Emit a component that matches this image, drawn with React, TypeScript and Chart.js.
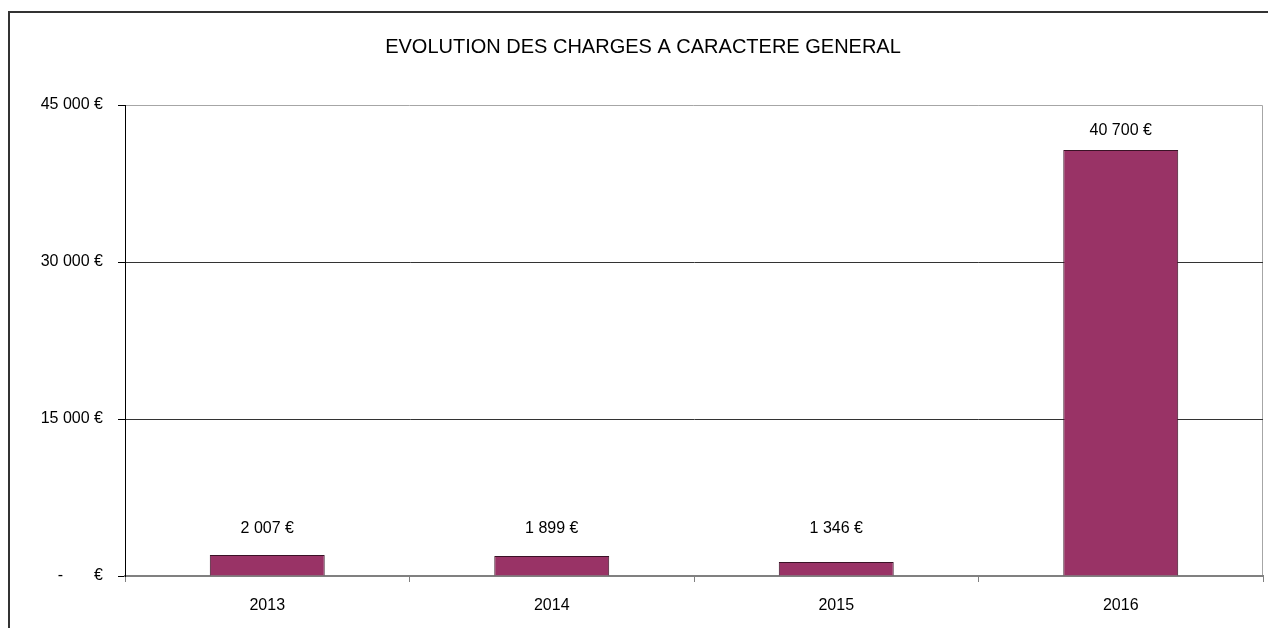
import React, { useEffect, useRef } from "react";
import { Chart, registerables } from "chart.js";

Chart.register(...registerables);

const categories = ["2013", "2014", "2015", "2016"];
const values = [2007, 1899, 1346, 40700];
const yTicks = [0, 15000, 30000, 45000];
const title = "EVOLUTION DES CHARGES A CARACTERE GENERAL";

const FONT = "'Liberation Sans', Arial, sans-serif";

function fmt(v: number): string {
  if (v === 0) return "-       €";
  const s = Math.round(v).toString().replace(/\B(?=(\d{3})+(?!\d))/g, " ");
  return s + " €";
}

const decorPlugin = {
  id: "decor",
  beforeDraw(chart: any) {
    const ctx = chart.ctx;
    const { left, right, top, bottom } = chart.chartArea;
    ctx.save();
    ctx.fillStyle = "#fff";
    ctx.fillRect(0, 0, chart.width, chart.height);
    // frame
    ctx.strokeStyle = "#333";
    ctx.lineWidth = 2;
    ctx.beginPath();
    ctx.moveTo(9, chart.height + 5);
    ctx.lineTo(9, 12);
    ctx.lineTo(chart.width + 5, 12);
    ctx.stroke();
    // plot area border (top, right)
    ctx.strokeStyle = "#a6a6a6";
    ctx.lineWidth = 1;
    ctx.beginPath();
    ctx.moveTo(left, top + 0.5);
    ctx.lineTo(right - 0.5, top + 0.5);
    ctx.lineTo(right - 0.5, bottom);
    ctx.stroke();
    // title
    ctx.fillStyle = "#000";
    ctx.font = `20px ${FONT}`;
    ctx.textAlign = "center";
    ctx.textBaseline = "middle";
    ctx.fillText(title, 643, 47);
    ctx.restore();
  },
  afterDatasetsDraw(chart: any) {
    const ctx = chart.ctx;
    const meta = chart.getDatasetMeta(0);
    const base = chart.chartArea.bottom;
    ctx.save();
    ctx.fillStyle = "#000";
    ctx.font = `16px ${FONT}`;
    ctx.textAlign = "center";
    ctx.textBaseline = "middle";
    meta.data.forEach((bar: any, i: number) => {
      const y = Math.min(bar.y - 19, base - 47);
      ctx.fillText(fmt(values[i]), bar.x, y);
    });
    ctx.restore();
  },
};

export default function App() {
  const ref = useRef<HTMLCanvasElement | null>(null);
  useEffect(() => {
    if (!ref.current) return;
    const chart = new Chart(ref.current, {
      type: "bar",
      data: {
        labels: categories,
        datasets: [
          {
            data: values,
            backgroundColor: "#993366",
            borderColor: "#3a1226",
            borderWidth: 1,
            barPercentage: 0.404,
            categoryPercentage: 1,
          },
        ],
      },
      options: {
        animation: false,
        responsive: false,
        maintainAspectRatio: false,
        layout: { padding: { left: 0, right: 5, top: 105, bottom: 0 } },
        plugins: {
          legend: { display: false },
          title: { display: false },
          tooltip: { enabled: false },
        },
        scales: {
          x: {
            grid: {
              display: true,
              drawOnChartArea: false,
              drawTicks: true,
              tickLength: 6,
              color: "#808080",
              offset: true,
            },
            border: { display: true, color: "#808080", width: 2 },
            ticks: {
              color: "#000",
              font: { family: FONT, size: 16 },
              padding: 14,
            },
            afterFit(scale: any) {
              scale.height = 52;
            },
          },
          y: {
            min: 0,
            max: 45000,
            afterBuildTicks(scale: any) {
              scale.ticks = yTicks.map((v) => ({ value: v }));
            },
            grid: {
              display: true,
              drawOnChartArea: true,
              drawTicks: true,
              tickLength: 7,
              color: (c: any) =>
                c.tick && (c.tick.value === 45000 || c.tick.value === 0) ? "rgba(0,0,0,0)" : "#333",
              tickColor: "#000",
            },
            border: { display: true, color: "#000", width: 1 },
            ticks: {
              color: "#000",
              font: { family: FONT, size: 16 },
              padding: 15,
              callback: (v: any) => fmt(Number(v)),
            },
            afterFit(scale: any) {
              scale.width = 125;
            },
          },
        },
      },
      plugins: [decorPlugin],
    });
    return () => chart.destroy();
  }, []);
  return (
    <div style={{ position: "fixed", left: 0, top: 0, width: 1268, height: 628, background: "#fff" }}>
      <canvas ref={ref} width={1268} height={628} style={{ width: 1268, height: 628 }} />
    </div>
  );
}
